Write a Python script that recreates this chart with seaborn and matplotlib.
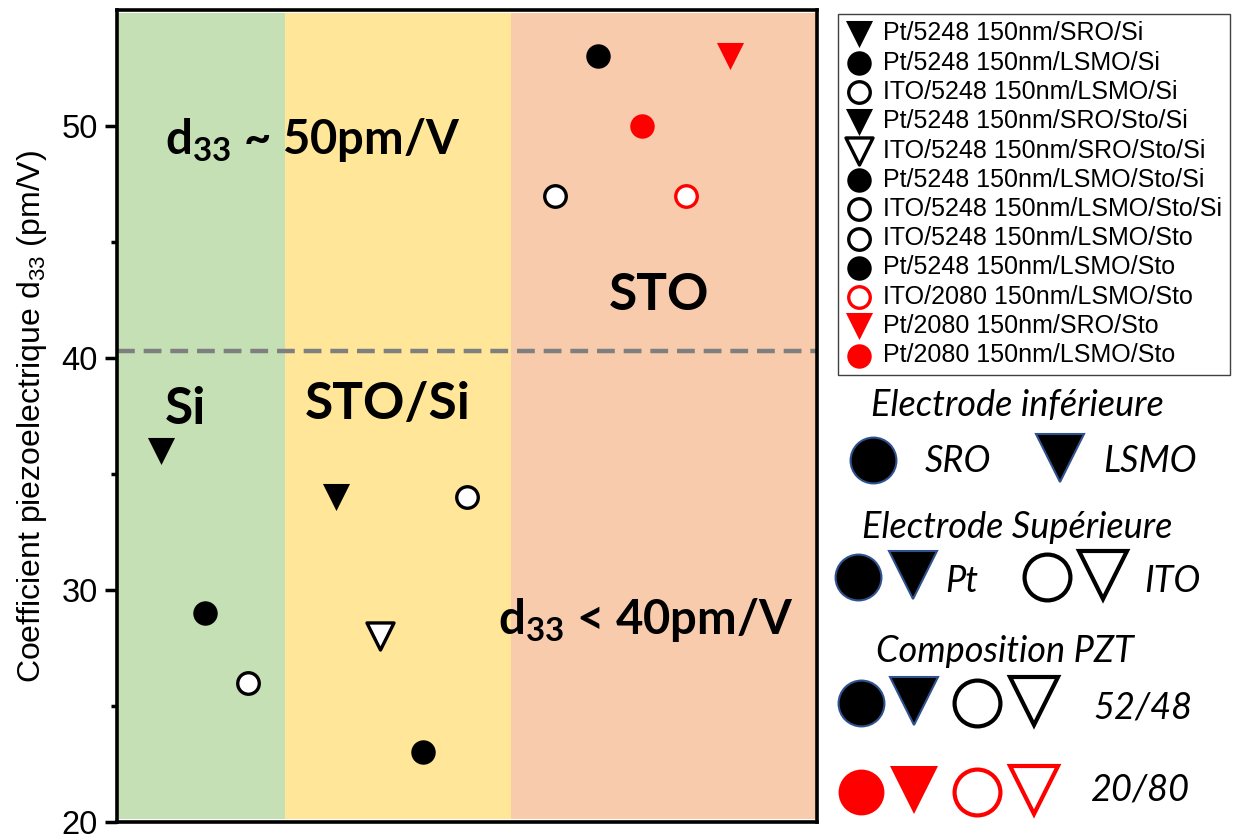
import numpy as np
import pandas as pd
import matplotlib.pyplot as plt
import seaborn as sns

# --- data ---
samples = [
    "Pt/5248 150nm/SRO/Si",
    "Pt/5248 150nm/LSMO/Si",
    "ITO/5248 150nm/LSMO/Si",
    "Pt/5248 150nm/SRO/Sto/Si",
    "ITO/5248 150nm/SRO/Sto/Si",
    "Pt/5248 150nm/LSMO/Sto/Si",
    "ITO/5248 150nm/LSMO/Sto/Si",
    "ITO/5248 150nm/LSMO/Sto",
    "Pt/5248 150nm/LSMO/Sto",
    "ITO/2080 150nm/LSMO/Sto",
    "Pt/2080 150nm/SRO/Sto",
    "Pt/2080 150nm/LSMO/Sto",
]
x_pos = [1, 2, 3, 5, 6, 7, 8, 10, 11, 13, 14, 12]
d33 = [36, 29, 26, 34, 28, 23, 34, 47, 53, 47, 53, 50]

region_names = ["Si", "STO/Si", "STO"]
region_edges = [0, 3.85, 9, 16]
threshold = 40.3
y_ticks = [20, 30, 40, 50]
y_minor = [25, 35, 45]

# --- styles ---
markers = ["v", "o", "o", "v", "v", "o", "o", "o", "o", "o", "v", "o"]
faces = ["black", "black", "white", "black", "white", "black", "white",
         "white", "black", "white", "red", "red"]
edges = ["black"] * 9 + ["red"] * 3
region_colors = ["#C5E0B4", "#FFE699", "#F8CBAD"]

sns.set_style("ticks")
plt.rcParams["font.family"] = ["Liberation Sans", "DejaVu Sans"]
plt.rcParams["mathtext.fontset"] = "custom"
plt.rcParams["mathtext.rm"] = "Liberation Sans"
plt.rcParams["mathtext.bf"] = "Lato:bold"
plt.rcParams["mathtext.it"] = "Lato:italic"
for key in ["text.color", "axes.labelcolor", "xtick.color", "ytick.color",
            "axes.edgecolor"]:
    plt.rcParams[key] = "black"

W, H = 1233, 836
fig = plt.figure(figsize=(W / 100, H / 100), dpi=100)
ax = fig.add_axes([117 / W, 14 / H, 700 / W, 812 / H])

df = pd.DataFrame({"sample": samples, "x": x_pos, "d33": d33})

# background regions
for i in range(len(region_names)):
    ax.axvspan(region_edges[i], region_edges[i + 1], ymin=0.004, ymax=0.996,
               color=region_colors[i], lw=0, zorder=0)

ax.axhline(threshold, color="#7F7F7F", lw=3.2, dashes=(4, 2), zorder=1)

for i, row in df.iterrows():
    filled = faces[i] != "white"
    size = 380 if markers[i] == "v" else (310 if filled else 240)
    sns.scatterplot(x=[row["x"]], y=[row["d33"]], ax=ax, marker=markers[i],
                    s=size, color=faces[i], edgecolor=edges[i],
                    linewidth=0 if filled else 2.4, label=row["sample"],
                    legend=False, zorder=3)

ax.set_xlim(region_edges[0], region_edges[-1])
ax.set_ylim(20, 55)
ax.set_xticks([])
ax.set_yticks(y_ticks)
ax.set_yticks(y_minor, minor=True)
ax.tick_params(axis="y", which="major", direction="out", length=9, width=2.5,
               labelsize=23.5, pad=5)
ax.tick_params(axis="y", which="minor", direction="out", length=4.5, width=2.5)
for sp in ax.spines.values():
    sp.set_visible(True)
    sp.set_linewidth(2.6)
    sp.set_color("black")
ax.set_ylabel(r"Coefficient piezoelectrique d$_\mathrm{33}$ (pm/V)", fontsize=23,
              labelpad=9)

# region annotations
bold = dict(family=["Lato", "DejaVu Sans"], weight="bold", va="center",
            ha="left", color="black")
ax.text(1.1, 49.4, r"d$_\mathbf{33}$ ~ 50pm/V", fontsize=34, **bold)
ax.text(1.1, 37.8, region_names[0], fontsize=37, **bold)
ax.text(4.3, 38.0, region_names[1], fontsize=37, **bold)
ax.text(11.25, 42.7, region_names[2], fontsize=37, **bold)
ax.text(8.7, 28.7, r"d$_\mathbf{33}$ < 40pm/V", fontsize=34, **bold)

handles, labels = ax.get_legend_handles_labels()
leg = fig.legend(handles, labels, loc="upper left",
                 bbox_to_anchor=(838 / W, 1 - 14 / H), bbox_transform=fig.transFigure,
                 frameon=True, fancybox=False, edgecolor="#404040", framealpha=1,
                 fontsize=18, labelspacing=0.21, handlelength=1.1,
                 handletextpad=0.4, borderpad=0.3, borderaxespad=0)
leg.get_frame().set_linewidth(1.0)

# symbol key under the legend (figure pixel layout)
kax = fig.add_axes([0, 0, 1, 1])
kax.set_xlim(0, W)
kax.set_ylim(H, 0)
kax.axis("off")

ital = dict(family=["Lato", "DejaVu Sans"], style="italic", fontsize=26,
            ha="center", va="center", color="black")
blue = "#2F528F"


def key_marker(x, y, m, fc, ec, ew):
    kax.plot([x], [y], marker=m, ms=33 if m == "o" else 34, mfc=fc, mec=ec,
             mew=ew, ls="none")


kax.text(1017, 405, "Electrode inférieure", **ital)
key_marker(873, 460, "o", "black", blue, 1.5)
kax.text(958, 462, "SRO", **ital)
key_marker(1060, 458, "v", "black", blue, 1.5)
kax.text(1150, 462, "LSMO", **ital)

kax.text(1017, 528, "Electrode Supérieure", **ital)
key_marker(858, 577, "o", "black", blue, 1.5)
key_marker(913, 575, "v", "black", blue, 1.5)
kax.text(962, 582, "Pt", **ital)
key_marker(1047, 577, "o", "white", "black", 3)
key_marker(1103, 575, "v", "white", "black", 3)
kax.text(1172, 582, "ITO", **ital)

kax.text(1005, 652, "Composition PZT", **ital)
key_marker(861, 703, "o", "black", blue, 1.5)
key_marker(914, 701, "v", "black", blue, 1.5)
key_marker(977, 703, "o", "white", "black", 3)
key_marker(1034, 701, "v", "white", "black", 3)
kax.text(1143, 708, "52/48", **ital)
key_marker(861, 792, "o", "red", "red", 0)
key_marker(914, 790, "v", "red", "red", 0)
key_marker(977, 792, "o", "white", "red", 3)
key_marker(1034, 790, "v", "white", "red", 3)
kax.text(1140, 790, "20/80", **ital)

fig.savefig("out.png", dpi=100)
